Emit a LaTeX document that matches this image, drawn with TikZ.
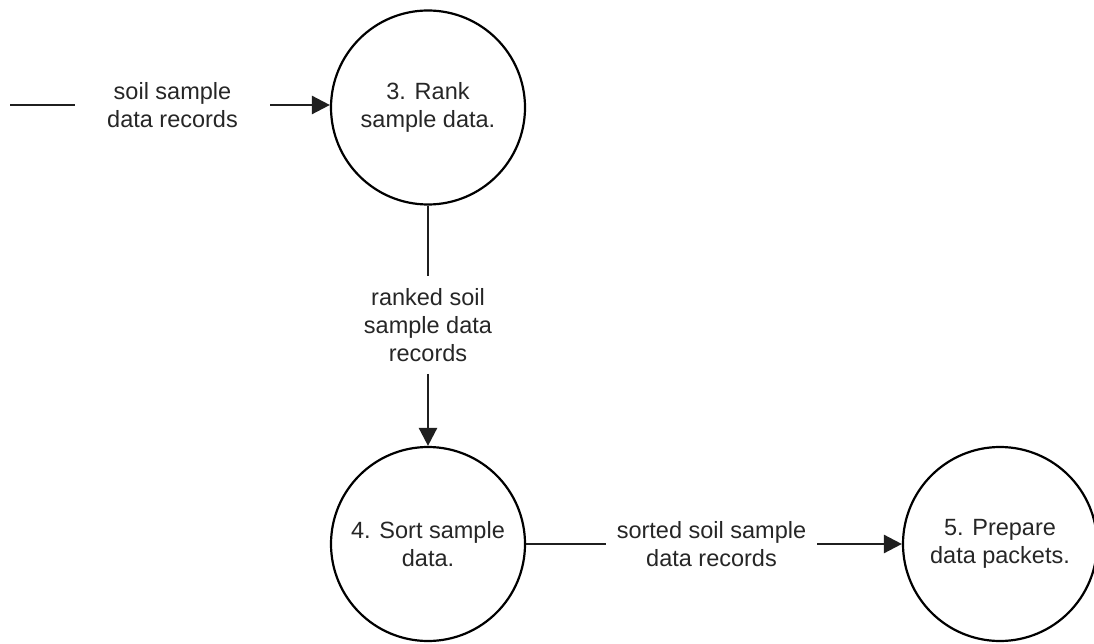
\documentclass[tikz,border=0pt]{standalone}
\usepackage{fontspec}
\setmainfont{Liberation Sans}
\usetikzlibrary{arrows.meta}
\begin{document}
\begin{tikzpicture}[x=1pt,y=-1pt,
  proc/.style={circle,draw,line width=2.2pt,minimum size=194pt,inner sep=0pt,align=center,text=black!85},
  lbl/.style={align=center,inner ysep=0pt,text=black!85},
  flow/.style={line width=2.6pt,draw=black!88},
  flowarrow/.style={flow,-{Triangle[length=18pt,width=18pt]}},
  every node/.style={font=\fontsize{23.5}{28}\selectfont}]
\useasboundingbox (0,0) rectangle (1094,644);
\node[proc] (c3) at (428,107.5) {3. Rank\\sample data.};
\node[proc] (c4) at (428,544) {4. Sort sample\\data.};
\node[proc] (c5) at (1000,544) {5. Prepare\\data packets.};
\coordinate (src) at (10,105);
\node[lbl,inner xsep=32pt] (l1) at (172.5,105) {soil sample\\data records};
\node[lbl,inner xsep=0pt,inner ysep=12pt] (l2) at (428,325) {ranked soil\\sample data\\records};
\node[lbl,inner xsep=11pt] (l3) at (711.5,544) {sorted soil sample\\data records};
\draw[flow] (src) -- (l1.west);
\draw[flowarrow] (l1.east) -- (c3.west |- l1.east);
\draw[flow] (c3.south) -- (l2.north);
\draw[flowarrow] (l2.south) -- (c4.north);
\draw[flow] (c4.east) -- (l3.west);
\draw[flowarrow] (l3.east) -- (c5.west);
\end{tikzpicture}
\end{document}
